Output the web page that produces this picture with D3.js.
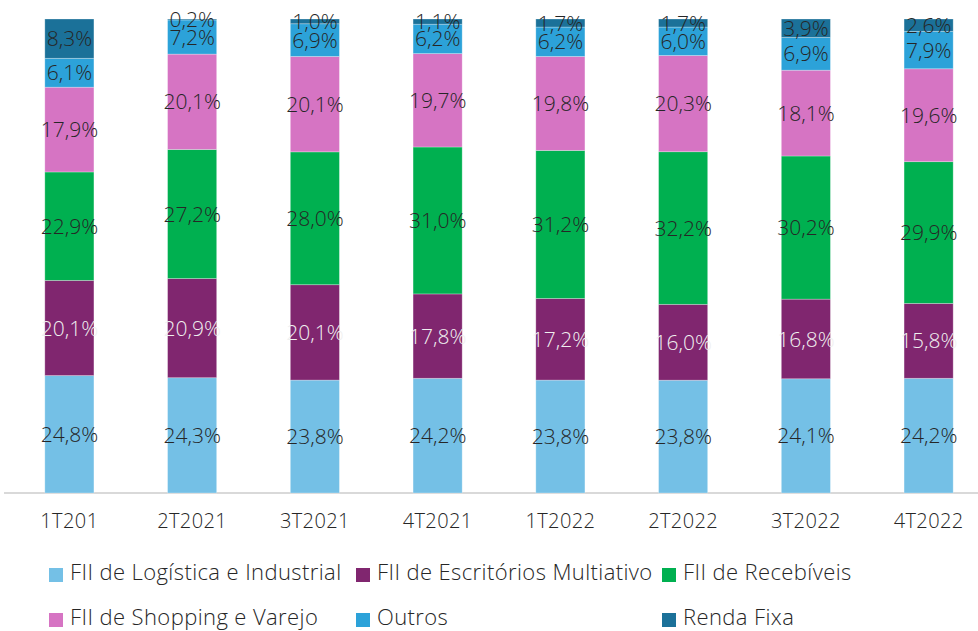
<!DOCTYPE html>
<html><head><meta charset="utf-8">
<script src="https://cdn.jsdelivr.net/npm/d3@7"></script>
<style>body{margin:0;background:#fff}svg{display:block}</style>
</head><body><svg id="c" width="978" height="631"></svg>
<script>
const categories = ["1T201","2T2021","3T2021","4T2021","1T2022","2T2022","3T2022","4T2022"];
const seriesNames = ["FII de Logística e Industrial","FII de Escritórios Multiativo","FII de Recebíveis","FII de Shopping e Varejo","Outros","Renda Fixa"];
const logistica   = [24.8,24.3,23.8,24.2,23.8,23.8,24.1,24.2];
const escritorios = [20.1,20.9,20.1,17.8,17.2,16.0,16.8,15.8];
const recebiveis  = [22.9,27.2,28.0,31.0,31.2,32.2,30.2,29.9];
const shopping    = [17.9,20.1,20.1,19.7,19.8,20.3,18.1,19.6];
const outros      = [6.1,7.2,6.9,6.2,6.2,6.0,6.9,7.9];
const rendaFixa   = [8.3,0.2,1.0,1.1,1.7,1.7,3.9,2.6];
const colors = ["#74c0e6","#80266f","#00b050","#d674c3","#2ca2d9","#1b7199"];
const labelColors = ["#262626","#f0f0f0","#262626","#262626","#262626","#262626"];

const seriesValues = [logistica,escritorios,recebiveis,shopping,outros,rendaFixa];
const rows = categories.map((c,i)=>{const r={cat:c}; seriesNames.forEach((s,j)=>r[s]=seriesValues[j][i]); return r;});
const stack = d3.stack().keys(seriesNames).offset(d3.stackOffsetExpand);
const layers = stack(rows);

const svg = d3.select("#c");
const font = "'Open Sans', sans-serif";
const x = d3.scaleBand().domain(categories).range([8,990]).paddingInner(0.6).paddingOuter(0.3);
const y = d3.scaleLinear().domain([0,1]).range([493,19]);

svg.append("line").attr("x1",4).attr("x2",978).attr("y1",493).attr("y2",493).attr("stroke","#d9d9d9").attr("stroke-width",2);

const g = svg.append("g");
layers.forEach((layer,j)=>{
  const lg = g.append("g");
  lg.selectAll("rect").data(layer).join("rect")
    .attr("x",d=>x(d.data.cat)).attr("width",x.bandwidth())
    .attr("y",d=>y(d[1])).attr("height",d=>y(d[0])-y(d[1]))
    .attr("fill",colors[j]).attr("stroke","#ffffff").attr("stroke-opacity",0.35).attr("stroke-width",0.8);
});
layers.forEach((layer,j)=>{
  g.append("g").selectAll("text").data(layer).join("text")
    .attr("x",d=>x(d.data.cat)+x.bandwidth()/2)
    .attr("y",d=>(y(d[0])+y(d[1]))/2)
    .attr("dy","0.36em").attr("text-anchor","middle")
    .attr("font-family",font).attr("font-size",21).attr("font-weight",300)
    .attr("fill",labelColors[j])
    .text(d=>d.data[seriesNames[j]].toFixed(1).replace(".",",")+"%");
});

// axis
const xAxis = svg.append("g").attr("transform","translate(0,493)").call(d3.axisBottom(x).tickSize(0).tickPadding(0));
xAxis.select(".domain").remove();
xAxis.selectAll("text").attr("y",35).attr("dy",0).attr("font-family",font).attr("font-size",20).attr("letter-spacing",0.4).attr("font-weight",300).attr("fill","#262626");

// legend (baselines)
const legendPos = [[49,580],[356,580],[662,580],[49,625],[356,625],[662,625]];
const leg = svg.append("g");
seriesNames.forEach((s,j)=>{
  const [lx,ly] = legendPos[j];
  leg.append("rect").attr("x",lx).attr("y",ly-12).attr("width",14).attr("height",14).attr("fill",colors[j]);
  leg.append("text").attr("x",lx+21).attr("y",ly).attr("letter-spacing",0.4)
    .attr("font-family",font).attr("font-size",22).attr("font-weight",300).attr("fill","#262626").text(s);
});
</script></body></html>
